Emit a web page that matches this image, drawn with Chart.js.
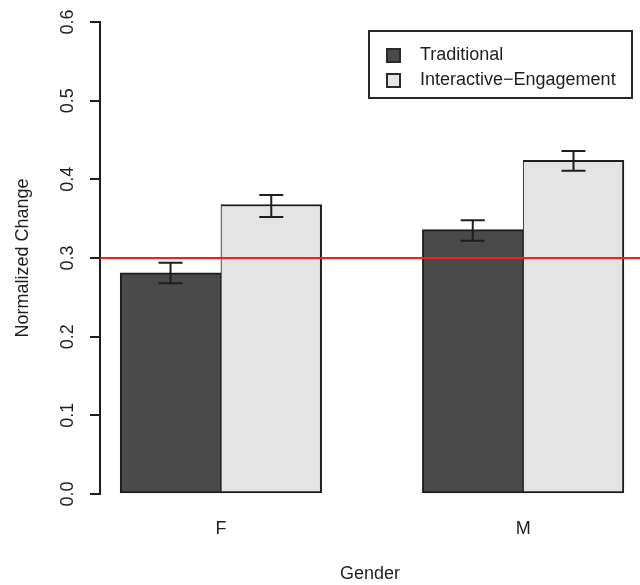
<!DOCTYPE html>
<html>
<head>
<meta charset="utf-8">
<script src="https://cdn.jsdelivr.net/npm/chart.js@4/dist/chart.umd.min.js"></script>
<style>
  html, body { margin: 0; padding: 0; background: #fff; overflow: hidden; }
</style>
</head>
<body>
<canvas id="myChart" width="640" height="585"></canvas>
<script>
// values
var categories = ['F', 'M'];
var seriesNames = ['Traditional', 'Interactive\u2212Engagement'];
var traditional = [0.281, 0.336];
var traditionalLow = [0.268, 0.322];
var traditionalHigh = [0.294, 0.348];
var interactive = [0.368, 0.424];
var interactiveLow = [0.352, 0.411];
var interactiveHigh = [0.380, 0.436];
var referenceLine = 0.3;

var FONT = { family: '"Liberation Sans", Arial, sans-serif', size: 18 };
var INK = '#1e1e1e';

// barplot(beside=TRUE) layout: one unit gap, then two bars of width 1 per group
function barX(group, bar) { return 1 + 3 * group + bar + 0.5; }
function groupX(group) { return 2 + 3 * group; }

var data = {
    datasets: [{
        label: seriesNames[0],
        backgroundColor: '#4a4a4a',
        borderColor: INK,
        borderWidth: { top: 2, left: 2, right: 1, bottom: 2 },
        borderSkipped: false,
        data: traditional.map(function(v, i) { return { x: barX(i, 0), y: v }; }),
        low: traditionalLow,
        high: traditionalHigh
    }, {
        label: seriesNames[1],
        backgroundColor: '#e4e4e4',
        borderColor: INK,
        borderWidth: { top: 2, left: 1, right: 2, bottom: 2 },
        borderSkipped: false,
        data: interactive.map(function(v, i) { return { x: barX(i, 1), y: v }; }),
        low: interactiveLow,
        high: interactiveHigh
    }]
};

var errorBars = {
    id: 'errorBars',
    afterDatasetsDraw: function(chart) {
        var ctx = chart.ctx;
        var y = chart.scales.y;
        ctx.save();
        ctx.strokeStyle = INK;
        ctx.lineWidth = 2;
        chart.data.datasets.forEach(function(ds, d) {
            chart.getDatasetMeta(d).data.forEach(function(bar, i) {
                var top = y.getPixelForValue(ds.high[i]);
                var bot = y.getPixelForValue(ds.low[i]);
                ctx.beginPath();
                ctx.moveTo(bar.x, top); ctx.lineTo(bar.x, bot);
                ctx.moveTo(bar.x - 12, top); ctx.lineTo(bar.x + 12, top);
                ctx.moveTo(bar.x - 12, bot); ctx.lineTo(bar.x + 12, bot);
                ctx.stroke();
            });
        });
        // abline(h = 0.3)
        var ry = y.getPixelForValue(referenceLine);
        ctx.strokeStyle = '#ff1a1a';
        ctx.beginPath();
        ctx.moveTo(chart.chartArea.left, ry);
        ctx.lineTo(chart.chartArea.right, ry);
        ctx.stroke();
        ctx.restore();
    }
};

var boxLegend = {
    id: 'boxLegend',
    afterDraw: function(chart) {
        var ctx = chart.ctx;
        ctx.save();
        ctx.strokeStyle = '#2a2a2a';
        ctx.lineWidth = 2;
        ctx.strokeRect(369, 31, 263, 67);
        ctx.font = FONT.size + 'px ' + FONT.family;
        ctx.textBaseline = 'middle';
        chart.data.datasets.forEach(function(ds, i) {
            var cy = 55 + i * 25;
            ctx.fillStyle = ds.backgroundColor;
            ctx.fillRect(387, cy - 6, 13, 13);
            ctx.strokeRect(387, cy - 6, 13, 13);
            ctx.fillStyle = INK;
            ctx.fillText(ds.label, 420, cy);
        });
        ctx.restore();
    }
};

var config = {
    type: 'bar',
    data: data,
    options: {
        responsive: false,
        animation: false,
        devicePixelRatio: 1,
        grouped: false,
        categoryPercentage: 1,
        barPercentage: 1,
        layout: { padding: { top: 22, right: 0, bottom: 0, left: 0 } },
        plugins: { legend: { display: false }, tooltip: { enabled: false } },
        scales: {
            x: {
                type: 'linear',
                offset: false,
                bounds: 'data',
                min: 0.8,
                max: 6.16,
                afterBuildTicks: function(scale) {
                    scale.ticks = categories.map(function(c, i) { return { value: groupX(i) }; });
                },
                afterFit: function(scale) { scale.height = 91; },
                border: { display: false },
                grid: { display: false, drawTicks: false },
                ticks: {
                    autoSkip: false,
                    maxRotation: 0,
                    padding: 24,
                    color: INK,
                    font: FONT,
                    callback: function(v, i) { return categories[i]; }
                },
                title: { display: true, text: 'Gender', color: INK, font: FONT, padding: { top: 0, bottom: 0 } }
            },
            y: {
                min: 0,
                max: 0.6,
                afterFit: function(scale) { scale.width = 100; },
                border: { display: true, color: INK, width: 2 },
                grid: { drawOnChartArea: false, drawTicks: true, tickLength: 10, color: INK, lineWidth: 2 },
                ticks: {
                    stepSize: 0.1,
                    minRotation: 90,
                    maxRotation: 90,
                    crossAlign: 'center',
                    padding: 9,
                    color: INK,
                    font: FONT,
                    callback: function(v) { return v.toFixed(1); }
                },
                title: { display: true, text: 'Normalized Change', color: INK, font: FONT, padding: { top: 12, bottom: 0 } }
            }
        }
    },
    plugins: [errorBars, boxLegend]
};

var myChart = new Chart(document.getElementById('myChart'), config);
</script>
</body>
</html>
